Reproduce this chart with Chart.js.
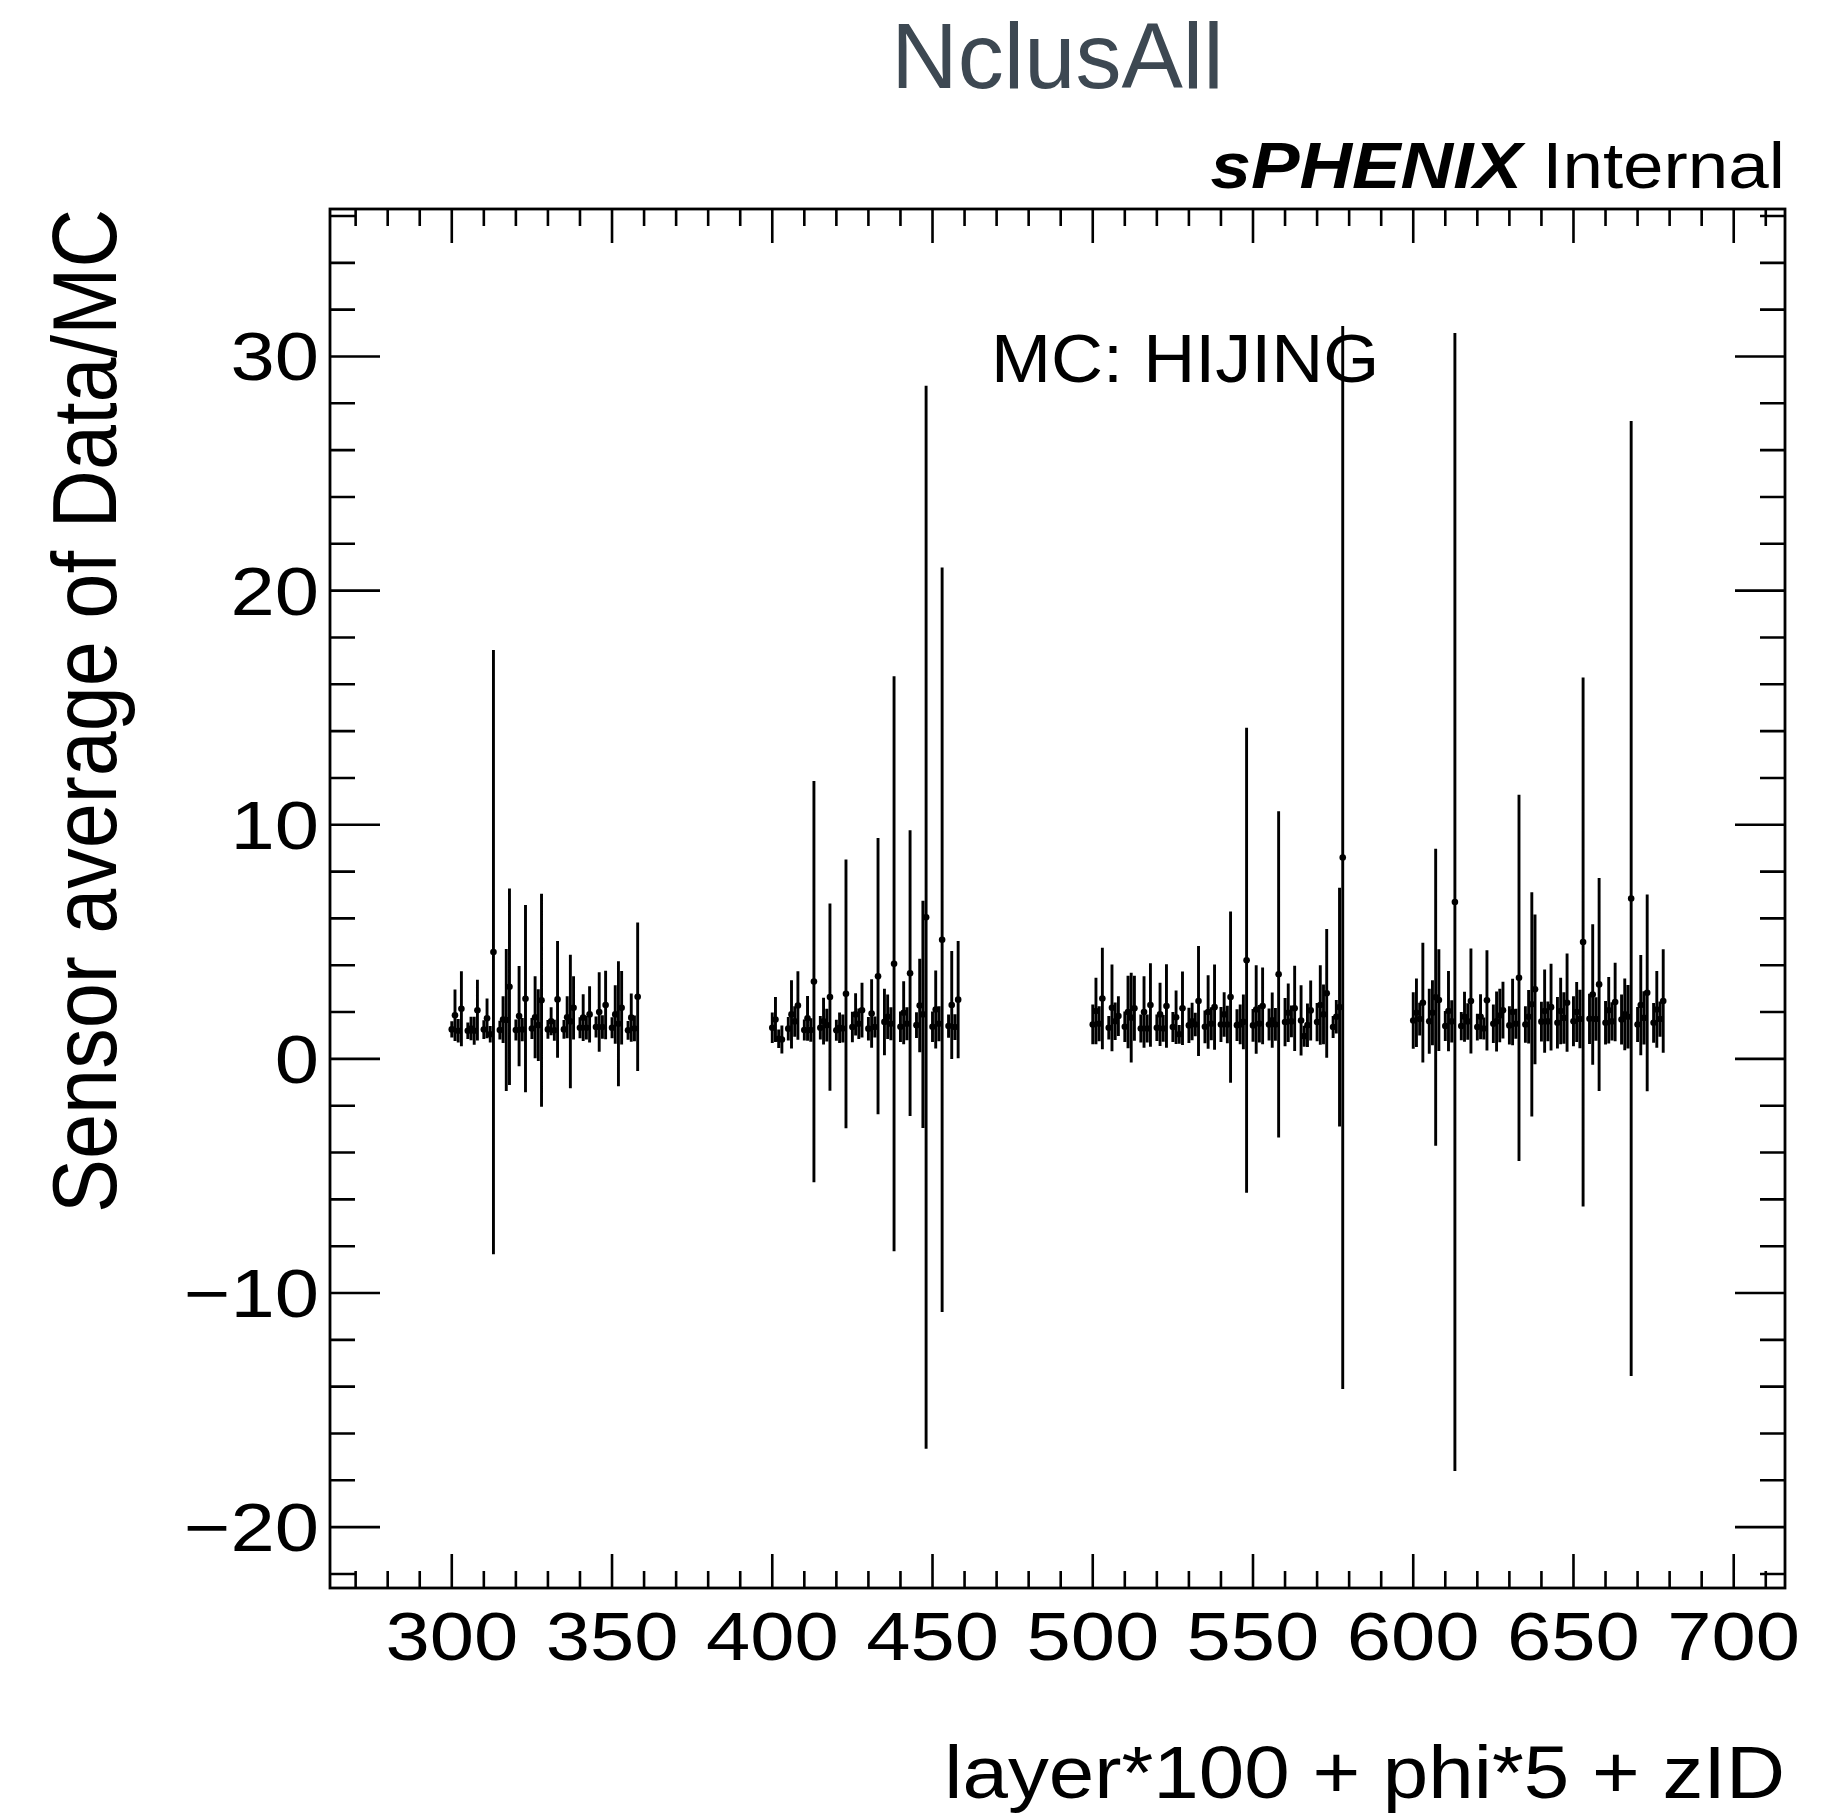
<!DOCTYPE html>
<html><head><meta charset="utf-8">
<script src="https://cdn.jsdelivr.net/npm/chart.js@4.4.0/dist/chart.umd.min.js"></script>
<style>html,body{margin:0;padding:0;background:#fff;}#wrap{width:1845px;height:1820px;position:relative;}</style>
</head><body><div id="wrap"><canvas id="c" width="1845" height="1820"></canvas></div>
<script>
// ---------------- data ----------------
const chartTitle = 'NclusAll';
const xAxisTitle = 'layer*100 + phi*5 + zID';
const yAxisTitle = 'Sensor average of Data/MC';
const mcLabel = 'MC: HIJING';
const layers = [3, 4, 5, 6];
const stavesPerLayer = [12, 12, 16, 16];
const sensorsPerStave = 4;
const xTickValues = [300, 350, 400, 450, 500, 550, 600, 650, 700];
const xTickLabels = ['300', '350', '400', '450', '500', '550', '600', '650', '700'];
const yTickValues = [-20, -10, 0, 10, 20, 30];
const yTickLabels = ['\u221220', '\u221210', '0', '10', '20', '30'];

const layer3Val = [1.26,1.86,1.2,2.14, 1.2,1.3,1.2,2.08, 1.25,1.73,1.05,4.56, 1.23,1.68,1.66,3.08, 1.23,1.83,1.25,2.57, 1.3,1.78,1.44,2.5, 1.26,1.61,1.22,2.54, 1.26,1.78,1.6,2.18, 1.33,1.76,1.33,1.9, 1.36,2.0,1.36,2.3, 1.33,1.9,1.5,2.18, 1.22,1.76,1.3,2.65];
const layer3Err = [0.35,1.1,0.5,1.6, 0.35,0.5,0.6,1.3, 0.4,0.85,0.35,12.9, 0.4,1.0,3.03,4.2, 0.45,2.14,0.5,4.0, 0.45,1.75,1.53,4.55, 0.4,0.6,0.45,2.49, 0.4,0.9,2.85,1.35, 0.45,1.0,0.5,1.2, 0.45,1.7,0.5,1.46, 0.45,1.25,2.67,1.57, 0.4,1.03,0.55,3.17];
const layer4Val = [1.33,1.68,0.86,0.83, 1.29,1.9,1.6,2.28, 1.23,1.73,1.23,3.3, 1.33,1.61,1.44,2.64, 1.22,1.33,1.3,2.78, 1.36,1.9,1.5,2.08, 1.29,1.94,1.36,3.53, 1.58,1.8,1.5,4.06, 1.37,1.97,1.5,3.66, 1.44,2.28,1.9,6.05, 1.37,2.11,1.5,5.09, 1.4,2.3,1.36,2.53];
const layer4Err = [0.65,0.96,0.4,0.6, 0.5,1.46,0.65,1.46, 0.45,0.96,0.5,8.57, 0.5,1.0,0.7,4.0, 0.45,0.65,0.6,5.74, 0.65,0.9,0.65,1.17, 0.5,1.46,0.45,5.9, 1.42,0.95,0.7,12.28, 0.65,1.35,0.7,6.1, 0.55,2.0,4.85,22.7, 0.65,1.67,0.75,15.9, 0.5,2.31,0.55,2.5];
const layer5Val = [1.47,2.04,1.5,2.58, 1.33,2.18,1.61,1.83, 1.37,2.0,1.76,2.16, 1.3,2.0,1.3,2.3, 1.33,1.9,1.3,2.26, 1.36,1.78,1.05,2.16, 1.43,1.6,1.47,2.47, 1.37,2.0,1.5,2.21, 1.47,1.9,1.47,2.64, 1.44,1.47,1.58,4.21, 1.43,2.11,1.5,2.26, 1.47,1.65,1.47,3.61, 1.57,1.97,1.6,2.16, 1.64,0.97,1.44,2.07, 1.57,2.3,1.9,2.8, 1.36,1.8,2.21,8.6];
const layer5Err = [0.85,1.42,0.75,2.17, 0.5,1.85,0.8,0.85, 0.65,1.55,1.92,1.39, 0.6,1.53,0.6,1.78, 0.57,1.35,0.57,1.78, 0.64,1.14,0.4,1.57, 0.75,0.8,0.5,2.35, 0.7,1.57,0.7,1.82, 0.75,0.95,0.8,3.66, 0.68,0.85,1.17,9.93, 0.7,1.89,0.8,1.64, 0.68,1.18,0.7,6.97, 1.03,1.25,0.68,1.82, 1.5,0.45,0.93,1.28, 0.82,1.7,1.28,2.75, 0.47,0.72,5.1,22.7];
const layer6Val = [1.64,1.97,1.7,2.4, 1.61,1.97,2.63,2.51, 1.4,2.04,1.6,6.7, 1.4,1.8,1.6,2.47, 1.36,1.8,1.3,2.5, 1.5,1.6,1.85,2.08, 1.43,2.0,1.5,3.46, 1.47,1.8,2.33,2.97, 1.59,2.04,1.6,2.21, 1.54,2.04,1.75,2.4, 1.61,2.0,1.7,4.99, 1.71,2.75,1.7,3.18, 1.54,2.08,1.6,2.43, 1.68,1.9,1.8,6.85, 1.47,2.3,1.75,2.82, 1.54,2.11,1.7,2.47];
const layer6Err = [1.21,1.46,0.7,2.56, 1.39,1.39,6.34,2.17, 0.64,1.71,0.9,24.3, 0.6,1.07,0.78,2.24, 0.57,0.96,0.47,2.14, 0.82,1.28,1.14,1.21, 0.82,1.42,0.64,7.82, 0.78,1.14,4.79,3.2, 0.85,1.78,0.85,1.85, 1.1,1.42,1.1,2.1, 1.07,1.28,1.25,11.3, 1.07,3.0,0.93,4.55, 0.93,1.42,0.82,1.68, 1.07,1.53,1.36,20.4, 0.75,2.14,1.14,4.2, 0.85,1.64,0.75,2.21];

// ---------------- build points ----------------
const layerVals = [layer3Val, layer4Val, layer5Val, layer6Val];
const layerErrs = [layer3Err, layer4Err, layer5Err, layer6Err];
const points = [];
const errors = [];
layers.forEach((L, li) => {
  for (let phi = 0; phi < stavesPerLayer[li]; phi++) {
    for (let z = 0; z < sensorsPerStave; z++) {
      const k = phi * sensorsPerStave + z;
      points.push({ x: L * 100 + phi * 5 + z, y: layerVals[li][k] });
      errors.push(layerErrs[li][k]);
    }
  }
});

const FONT = "'Liberation Sans', Arial, Helvetica, sans-serif";

function stretchedText(ctx, text, x, y, font, align, sx) {
  ctx.save();
  ctx.translate(x, y);
  ctx.scale(sx, 1);
  ctx.font = font;
  ctx.textAlign = align;
  ctx.textBaseline = 'alphabetic';
  ctx.fillText(text, 0, 0);
  ctx.restore();
}

const errorBarPlugin = {
  id: 'errorBars',
  beforeDatasetsDraw(chart) {
    const ctx = chart.ctx, xs = chart.scales.x, ys = chart.scales.y, a = chart.chartArea;
    ctx.save();
    ctx.beginPath();
    ctx.rect(a.left, a.top, a.right - a.left, a.bottom - a.top);
    ctx.clip();
    ctx.strokeStyle = '#000';
    ctx.lineWidth = 2.9;
    ctx.beginPath();
    points.forEach((p, i) => {
      const px = xs.getPixelForValue(p.x);
      ctx.moveTo(px, ys.getPixelForValue(p.y + errors[i]));
      ctx.lineTo(px, ys.getPixelForValue(p.y - errors[i]));
    });
    ctx.stroke();
    ctx.restore();
  }
};

const framePlugin = {
  id: 'rootFrame',
  afterDraw(chart) {
    const ctx = chart.ctx, xs = chart.scales.x, ys = chart.scales.y, a = chart.chartArea;
    ctx.save();
    ctx.strokeStyle = '#000';
    ctx.fillStyle = '#000';
    ctx.lineWidth = 2.8;
    ctx.strokeRect(a.left, a.top, a.right - a.left, a.bottom - a.top);
    ctx.lineWidth = 2.6;
    ctx.beginPath();
    // x ticks every 10, major every 50
    for (let v = Math.ceil(xs.min / 10) * 10; v <= xs.max; v += 10) {
      const px = xs.getPixelForValue(v);
      const len = (v % 50 === 0) ? 34 : 17;
      ctx.moveTo(px, a.bottom); ctx.lineTo(px, a.bottom - len);
      ctx.moveTo(px, a.top); ctx.lineTo(px, a.top + len);
    }
    // y ticks every 2, major every 10
    for (let v = Math.ceil(ys.min / 2) * 2; v <= ys.max; v += 2) {
      const py = ys.getPixelForValue(v);
      const len = (v % 10 === 0) ? 50 : 25;
      ctx.moveTo(a.left, py); ctx.lineTo(a.left + len, py);
      ctx.moveTo(a.right, py); ctx.lineTo(a.right - len, py);
    }
    ctx.stroke();

    // tick labels
    xTickValues.forEach((v, i) => {
      stretchedText(ctx, xTickLabels[i], xs.getPixelForValue(v), 1660, '68px ' + FONT, 'center', 1.17);
    });
    yTickValues.forEach((v, i) => {
      stretchedText(ctx, yTickLabels[i], 319, ys.getPixelForValue(v) + 24, '68px ' + FONT, 'right', 1.17);
    });

    // axis titles
    stretchedText(ctx, xAxisTitle, a.right, 1798, '75px ' + FONT, 'right', 1.09);
    ctx.save();
    ctx.translate(116, a.top);
    ctx.rotate(-Math.PI / 2);
    ctx.scale(1, 1.12);
    ctx.font = '81px ' + FONT;
    ctx.textAlign = 'right';
    ctx.textBaseline = 'alphabetic';
    ctx.fillText(yAxisTitle, 0, 0);
    ctx.restore();

    // labels
    stretchedText(ctx, mcLabel, 991, 382, '68px ' + FONT, 'left', 1.06);
    ctx.save();
    ctx.font = '65px ' + FONT;
    const wInt = ctx.measureText(' Internal').width * 1.12;
    ctx.restore();
    stretchedText(ctx, ' Internal', a.right, 188, '65px ' + FONT, 'right', 1.12);
    stretchedText(ctx, 'sPHENIX', a.right - wInt, 188, 'italic bold 65px ' + FONT, 'right', 1.12);

    // main title
    ctx.fillStyle = '#3d4852';
    ctx.font = '92px ' + FONT;
    ctx.textAlign = 'center';
    ctx.textBaseline = 'alphabetic';
    ctx.fillText(chartTitle, (a.left + a.right) / 2, 88);
    ctx.restore();
  }
};

new Chart(document.getElementById('c'), {
  type: 'scatter',
  data: {
    datasets: [{
      label: chartTitle,
      data: points,
      pointRadius: 3.3,
      pointHoverRadius: 3.3,
      pointBackgroundColor: '#000',
      pointBorderColor: '#000',
      pointBorderWidth: 0,
      showLine: false
    }]
  },
  options: {
    responsive: false,
    animation: false,
    devicePixelRatio: 1,
    layout: { padding: { left: 330, right: 60, top: 209, bottom: 232 } },
    scales: {
      x: { type: 'linear', min: 262, max: 716, display: false },
      y: { type: 'linear', min: -22.6, max: 36.3, display: false }
    },
    plugins: { legend: { display: false }, title: { display: false }, tooltip: { enabled: false } }
  },
  plugins: [errorBarPlugin, framePlugin]
});
</script></body></html>
